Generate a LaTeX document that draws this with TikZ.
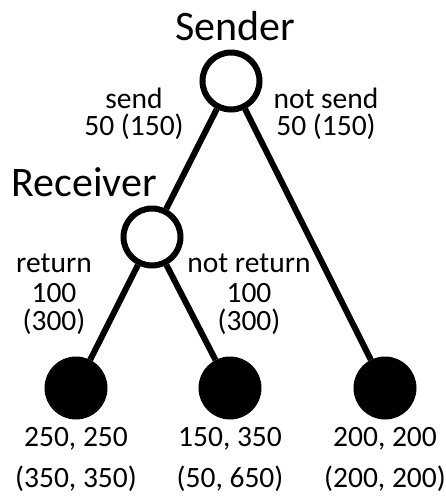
\documentclass[tikz,border=0pt]{standalone}
\usepackage{fontspec}
\setmainfont{Carlito}
\begin{document}
\begin{tikzpicture}[x=1pt,y=-1pt,
  decision/.style={circle,draw=black,line width=6pt,fill=white,minimum size=57pt,inner sep=0pt},
  terminal/.style={circle,draw=black,line width=6pt,fill=black,minimum size=57pt,inner sep=0pt},
  branch/.style={line width=6pt},
  player/.style={font=\fontsize{42}{46}\selectfont,anchor=base,inner sep=0pt},
  lab/.style={font=\fontsize{29.5}{32}\selectfont,anchor=base,inner sep=0pt},
  pay/.style={font=\fontsize{29.5}{32}\selectfont,anchor=base,inner sep=0pt}]
\useasboundingbox (0,0) rectangle (446,499);
% nodes
\node[decision] (S) at (231,81) {};
\node[decision] (R) at (152,237) {};
\node[terminal] (L1) at (76,388) {};
\node[terminal] (L2) at (230,388) {};
\node[terminal] (L3) at (385,388) {};
% connectors
\draw[branch] (S) -- (R);
\draw[branch] (S) -- (L3);
\draw[branch] (R) -- (L1);
\draw[branch] (R) -- (L2);
% players
\node[player] (sname) at (235,40) {Sender};
\node[player] (rname) at (84,196) {Receiver};
% branch labels
\node[lab] (sa) at (134,108) {send};
\node[lab] (sb) at (134,135) {50 (150)};
\node[lab] (na) at (326,108) {not send};
\node[lab] (nb) at (326,135) {50 (150)};
\node[lab] (ra) at (54,272) {return};
\node[lab] (rb) at (54,302) {100};
\node[lab] (rc) at (54,330) {(300)};
\node[lab] (ta) at (249,272) {not return};
\node[lab] (tb) at (249,302) {100};
\node[lab] (tc) at (249,330) {(300)};
% payoffs
\node[pay] (p1a) at (76,446) {250, 250};
\node[pay] (p1b) at (76,487) {(350, 350)};
\node[pay] (p2a) at (230,446) {150, 350};
\node[pay] (p2b) at (230,487) {(50, 650)};
\node[pay] (p3a) at (385,446) {200, 200};
\node[pay] (p3b) at (385,487) {(200, 200)};
\end{tikzpicture}
\end{document}
